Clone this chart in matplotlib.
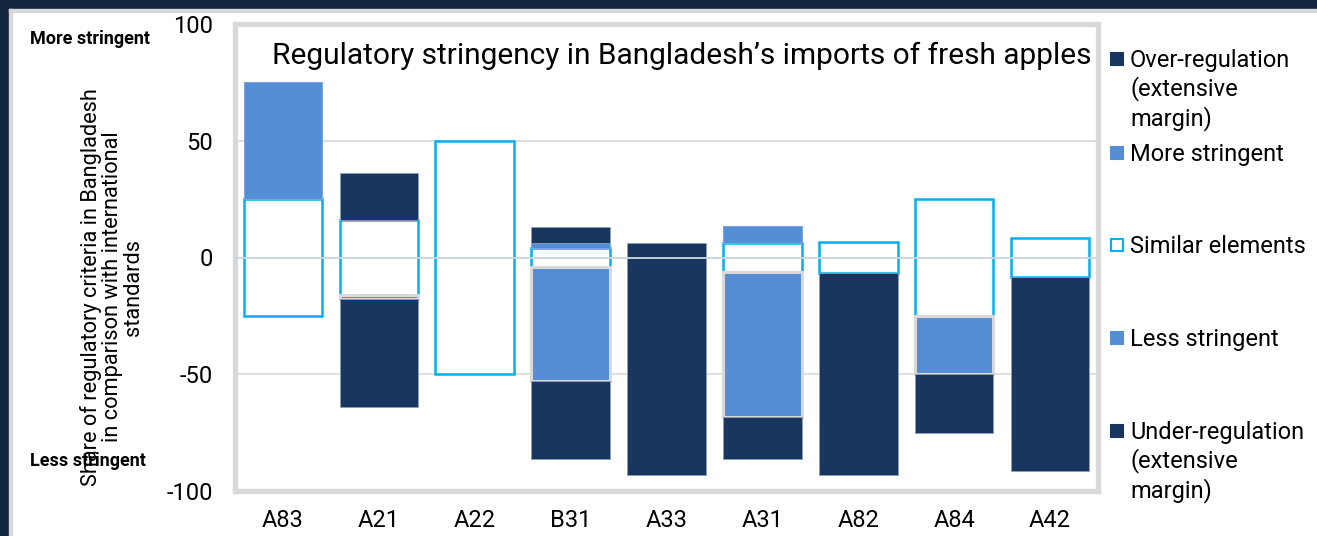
import numpy as np
from matplotlib import pyplot as plt
from matplotlib.patches import Rectangle

plt.rcParams['font.family'] = ['Roboto', 'DejaVu Sans']

categories = ['A83', 'A21', 'A22', 'B31', 'A33', 'A31', 'A82', 'A84', 'A42']
similar = np.array([50, 32.3, 100, 8.5, 0, 12, 13.3, 50, 16.4])
more_stringent = np.array([50, 0, 0, 2, 0, 7.4, 0, 0, 0])
over_reg = np.array([0, 19.9, 0, 6.8, 6.4, 0, 0, 0, 0])
less_stringent = np.array([0, 1.6, 0, 48.5, 0, 62.1, 0, 25, 0])
under_reg = np.array([0, 46.2, 0, 33.7, 93.2, 18, 86.4, 25, 83.1])

navy = '#19375e'
blue = '#558ed5'
cyan = '#00b0f0'
grey = '#d9d9d9'

W, H = 1317, 536
fig = plt.figure(figsize=(W / 100, H / 100), dpi=100)

# dark frame top/left
fig.patches.append(Rectangle((0, 1 - 9 / H), 1, 9 / H, transform=fig.transFigure, color='#13243f', zorder=0))
fig.patches.append(Rectangle((0, 0), 9 / W, 1, transform=fig.transFigure, color='#13243f', zorder=0))
fig.patches.append(Rectangle((9 / W, 1 - 12 / H), 1 - 9 / W, 3 / H, transform=fig.transFigure, color=grey, zorder=0))
fig.patches.append(Rectangle((9 / W, 0), 3 / W, 1 - 9 / H, transform=fig.transFigure, color=grey, zorder=0))

ax = fig.add_axes([235 / W, 1 - 491 / H, 863 / W, 467 / H])
x = np.arange(len(categories))
bw = 0.82


def draw(h, bottom, **kw):
    m = np.abs(h) > 0
    ax.bar(x[m], h[m], bottom=bottom[m], width=bw, zorder=3, **kw)


half = similar / 2
draw(similar, -half, facecolor='none', edgecolor=cyan, linewidth=1.8)
draw(more_stringent, half, facecolor=blue, edgecolor='#7aa6dc', linewidth=0.8)
draw(over_reg, half + more_stringent, facecolor=navy, edgecolor='#8aa0bb', linewidth=0.6)
draw(-less_stringent, -half, facecolor=blue, edgecolor=grey, linewidth=2.2)
draw(-under_reg, -half - less_stringent, facecolor=navy, edgecolor='#8aa0bb', linewidth=0.6)

ax.axhline(0, color='#c9d3da', linewidth=1.3, zorder=4)
for g in [50, -50]:
    ax.axhline(g, color=grey, linewidth=1.2, zorder=1)

ax.set_xlim(-0.5, len(categories) - 0.5)
ax.set_ylim(-100, 100)
ax.set_yticks([-100, -50, 0, 50, 100])
ax.set_yticklabels(['-100', '-50', '0', '50', '100'], fontsize=17)
ax.set_xticks(x)
ax.set_xticklabels(categories, fontsize=17)
ax.tick_params(axis='y', length=0, pad=16)
ax.tick_params(axis='x', length=0, pad=13)
for s in ax.spines.values():
    s.set_color(grey)
    s.set_linewidth(3.8)

fig.text(682 / W, 1 - 56 / H, "Regulatory stringency in Bangladesh\u2019s imports of fresh apples",
         ha='center', va='center', fontsize=21.5)

fig.text(112 / W, 1 - 287 / H,
         "Share of regulatory criteria in Bangladesh\nin comparison with international\nstandards",
         rotation=90, ha='center', va='center', fontsize=15.7, multialignment='center', linespacing=0.98)
fig.text(30 / W, 1 - 39 / H, "More stringent", fontsize=13, fontweight='bold', va='center')
fig.text(30 / W, 1 - 461 / H, "Less stringent", fontsize=13, fontweight='bold', va='center')

# legend
leg = [
    ("Over-regulation\n(extensive\nmargin)", 59, navy, navy),
    ("More stringent", 153, blue, blue),
    ("Similar elements", 245, 'white', cyan),
    ("Less stringent", 338, blue, blue),
    ("Under-regulation\n(extensive\nmargin)", 431, navy, navy),
]
for label, yp, fc, ec in leg:
    fig.patches.append(Rectangle((1111 / W, 1 - (yp + 6) / H), 12 / W, 12 / H,
                                 transform=fig.transFigure, facecolor=fc, edgecolor=ec, linewidth=1.5))
    fig.text(1130 / W, 1 - (yp - 10) / H, label, fontsize=17, va='top', linespacing=1.23)

plt.savefig('out.png', dpi=100)
